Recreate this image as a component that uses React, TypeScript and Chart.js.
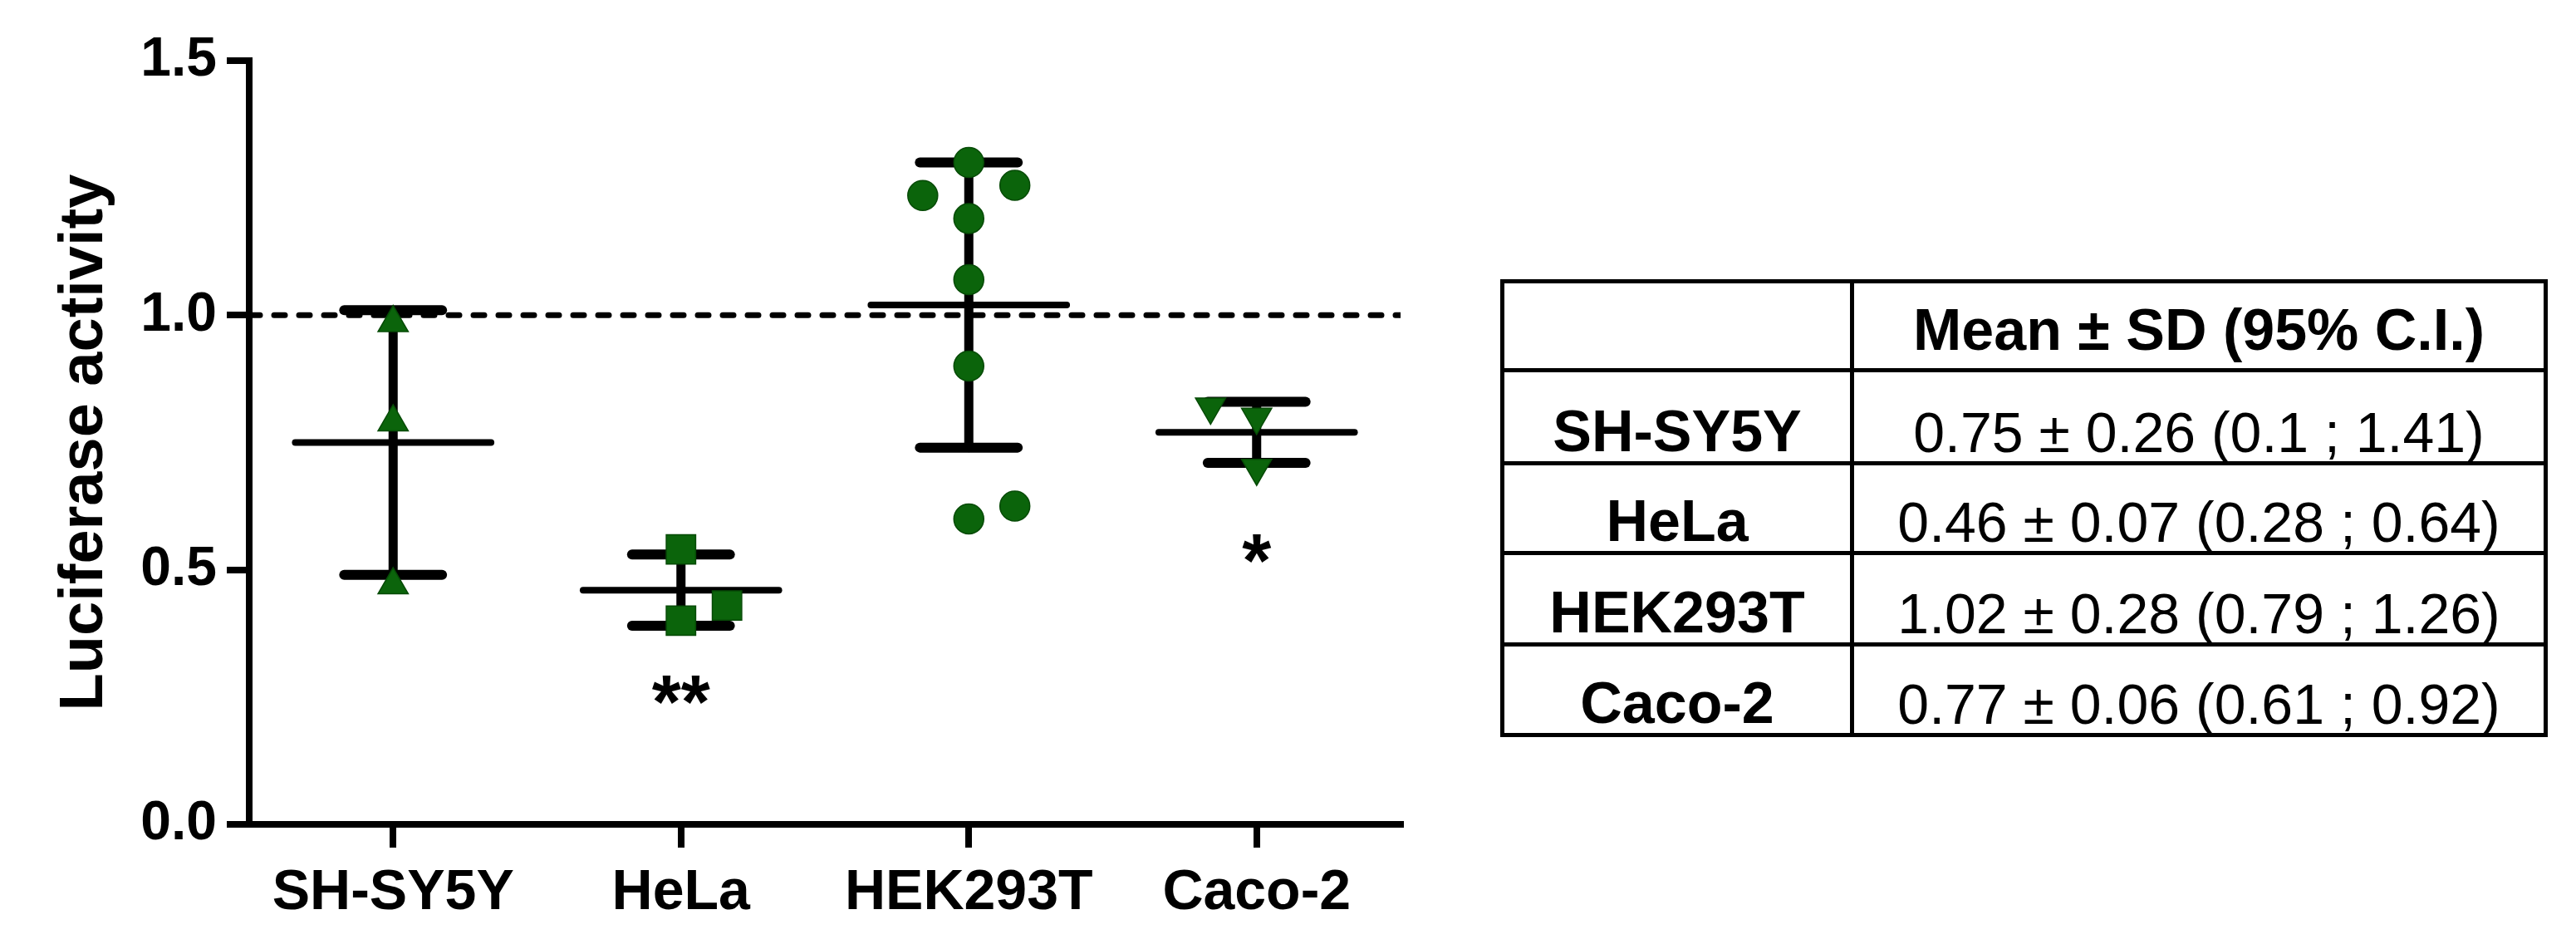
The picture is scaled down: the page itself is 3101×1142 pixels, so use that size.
import React, { useEffect, useRef } from 'react';
import { Chart, registerables } from 'chart.js';

Chart.register(...registerables);

// ---------- data ----------
const categories = ['SH-SY5Y', 'HeLa', 'HEK293T', 'Caco-2'];

const shsy5yValues = [0.985, 0.79, 0.47];
const shsy5yOffsets = [0, 0, 0];
const helaValues = [0.54, 0.4, 0.43];
const helaOffsets = [0, 0, 0.16];
const hekValues = [1.3, 1.235, 1.255, 1.19, 1.07, 0.9, 0.6, 0.625];
const hekOffsets = [0, -0.16, 0.16, 0, 0, 0, 0, 0.16];
const cacoValues = [0.82, 0.8, 0.7];
const cacoOffsets = [-0.16, 0, 0];

const means = [0.75, 0.46, 1.02, 0.77];
const sds = [0.26, 0.07, 0.28, 0.06];
const ciLow = [0.1, 0.28, 0.79, 0.61];
const ciHigh = [1.41, 0.64, 1.26, 0.92];

const referenceLevel = 1.0;
const significanceMarks = ['', '**', '', '*'];
const significanceY = [0, 0.23, 0, 0.508];

const yTicks = [0, 0.5, 1.0, 1.5];

const tableHeader = 'Mean ± SD (95% C.I.)';

// ---------- styling ----------
const FONT = "'Liberation Sans', Arial, Helvetica, sans-serif";
const GREEN = '#0b640b';
const GREEN_EDGE = '#064a06';
const MEAN_HALF = 0.34;
const CAP_HALF = 0.17;
const rowHeights = [107, 112, 108, 110, 109];

export default function App() {
  const ref = useRef<HTMLCanvasElement>(null);

  useEffect(() => {
    if (!ref.current) return;
    Chart.defaults.font.family = FONT;
    Chart.defaults.color = '#000';

    const groups = [
      { values: shsy5yValues, offsets: shsy5yOffsets, style: 'triangle', rotation: 0, radius: 21 },
      { values: helaValues, offsets: helaOffsets, style: 'rect', rotation: 0, radius: 25 },
      { values: hekValues, offsets: hekOffsets, style: 'circle', rotation: 0, radius: 18 },
      { values: cacoValues, offsets: cacoOffsets, style: 'triangle', rotation: 180, radius: 21 },
    ];

    const pointSets: any[] = groups.map((g, i) => ({
      label: categories[i],
      data: g.values.map((v, k) => ({ x: i + g.offsets[k], y: v })),
      pointStyle: g.style,
      pointRotation: g.rotation,
      pointRadius: g.radius,
      pointHoverRadius: g.radius,
      backgroundColor: GREEN,
      borderColor: GREEN_EDGE,
      pointBorderWidth: 1.5,
      showLine: false,
      order: 0,
    }));

    const seg = (pts: { x: number; y: number }[], width: number, order: number, dash: number[] = []) => ({
      data: pts,
      showLine: true,
      borderColor: '#000',
      borderWidth: width,
      borderCapStyle: 'round',
      borderDash: dash,
      pointRadius: 0,
      pointHoverRadius: 0,
      fill: false,
      tension: 0,
      order,
    });

    const lineSets: any[] = [];
    means.forEach((m, i) => {
      const sd = sds[i];
      lineSets.push(seg([{ x: i, y: m - sd }, { x: i, y: m + sd }], 11, 2));
      lineSets.push(seg([{ x: i - CAP_HALF, y: m + sd }, { x: i + CAP_HALF, y: m + sd }], 12, 2));
      lineSets.push(seg([{ x: i - CAP_HALF, y: m - sd }, { x: i + CAP_HALF, y: m - sd }], 12, 2));
      lineSets.push(seg([{ x: i - MEAN_HALF, y: m }, { x: i + MEAN_HALF, y: m }], 8, 2));
    });
    const refLine = seg([{ x: -0.5, y: referenceLevel }, { x: 3.5, y: referenceLevel }], 7, 1, [13, 17]);

    const starsPlugin = {
      id: 'stars',
      afterDatasetsDraw(chart: any) {
        const { ctx, scales } = chart;
        ctx.save();
        ctx.font = `bold 90px ${FONT}`;
        ctx.fillStyle = '#000';
        ctx.textAlign = 'center';
        ctx.textBaseline = 'middle';
        significanceMarks.forEach((s, i) => {
          if (!s) return;
          ctx.fillText(s, scales.x.getPixelForValue(i), scales.y.getPixelForValue(significanceY[i]));
        });
        ctx.restore();
      },
    };

    const tickGrid = (len: number) => ({
      display: true,
      drawOnChartArea: false,
      drawTicks: true,
      tickLength: len,
      tickWidth: 8,
      tickColor: '#000',
      color: '#000',
      lineWidth: 8,
    });

    const chart = new Chart(ref.current, {
      type: 'scatter',
      data: { datasets: [...pointSets, refLine, ...lineSets] },
      options: {
        animation: false,
        responsive: false,
        maintainAspectRatio: false,
        layout: { padding: { left: 0, top: 73, right: 74, bottom: 0 } },
        plugins: { legend: { display: false }, tooltip: { enabled: false } },
        scales: {
          x: {
            type: 'linear',
            min: -0.5,
            max: 3.5,
            afterBuildTicks: (s: any) => {
              s.ticks = categories.map((_, i) => ({ value: i }));
            },
            afterFit: (s: any) => {
              s.height = 150;
            },
            ticks: {
              callback: (v: any) => categories[v] ?? '',
              font: { size: 68, weight: 'bold' },
              color: '#000',
              padding: 14,
              autoSkip: false,
              maxRotation: 0,
              minRotation: 0,
            },
            grid: tickGrid(28),
            border: { display: true, color: '#000', width: 8 },
          },
          y: {
            type: 'linear',
            min: 0,
            max: 1.5,
            afterBuildTicks: (s: any) => {
              s.ticks = yTicks.map((v) => ({ value: v }));
            },
            afterFit: (s: any) => {
              s.width = 300;
            },
            ticks: {
              callback: (v: any) => Number(v).toFixed(1),
              font: { size: 66, weight: 'bold' },
              color: '#000',
              padding: 12,
            },
            grid: tickGrid(27),
            border: { display: true, color: '#000', width: 8 },
            title: {
              display: true,
              text: 'Luciferase activity',
              font: { size: 74, weight: 'bold' },
              color: '#000',
              padding: { top: 58, bottom: 0 },
            },
          },
        },
      } as any,
      plugins: [starsPlugin],
    } as any);

    return () => chart.destroy();
  }, []);

  const border = '5px solid #000';
  const cellBase: React.CSSProperties = {
    border,
    padding: 0,
    textAlign: 'center',
    verticalAlign: 'bottom',
    lineHeight: 1,
    whiteSpace: 'nowrap',
  };

  return (
    <div
      style={{
        position: 'fixed',
        left: 0,
        top: 0,
        width: 3101,
        height: 1142,
        background: '#fff',
        overflow: 'hidden',
      }}
    >
      <canvas
        ref={ref}
        width={1760}
        height={1142}
        style={{ position: 'absolute', left: 0, top: 0, width: 1760, height: 1142 }}
      />
      <table
        style={{
          position: 'absolute',
          left: 1806,
          top: 336,
          borderCollapse: 'collapse',
          tableLayout: 'fixed',
          width: 1256,
          fontFamily: FONT,
          color: '#000',
        }}
      >
        <colgroup>
          <col style={{ width: 421 }} />
          <col style={{ width: 835 }} />
        </colgroup>
        <tbody>
          <tr style={{ height: rowHeights[0] }}>
            <td style={cellBase}></td>
            <td style={{ ...cellBase, fontWeight: 'bold', fontSize: 70, paddingBottom: 11 }}>{tableHeader}</td>
          </tr>
          {categories.map((c, i) => (
            <tr key={c} style={{ height: rowHeights[i + 1] }}>
              <td style={{ ...cellBase, fontWeight: 'bold', fontSize: 70, paddingBottom: 1 }}>{c}</td>
              <td style={{ ...cellBase, fontSize: 68, paddingBottom: 1 }}>
                {`${means[i].toFixed(2)} ± ${sds[i].toFixed(2)} (${ciLow[i]} ; ${ciHigh[i]})`}
              </td>
            </tr>
          ))}
        </tbody>
      </table>
    </div>
  );
}
